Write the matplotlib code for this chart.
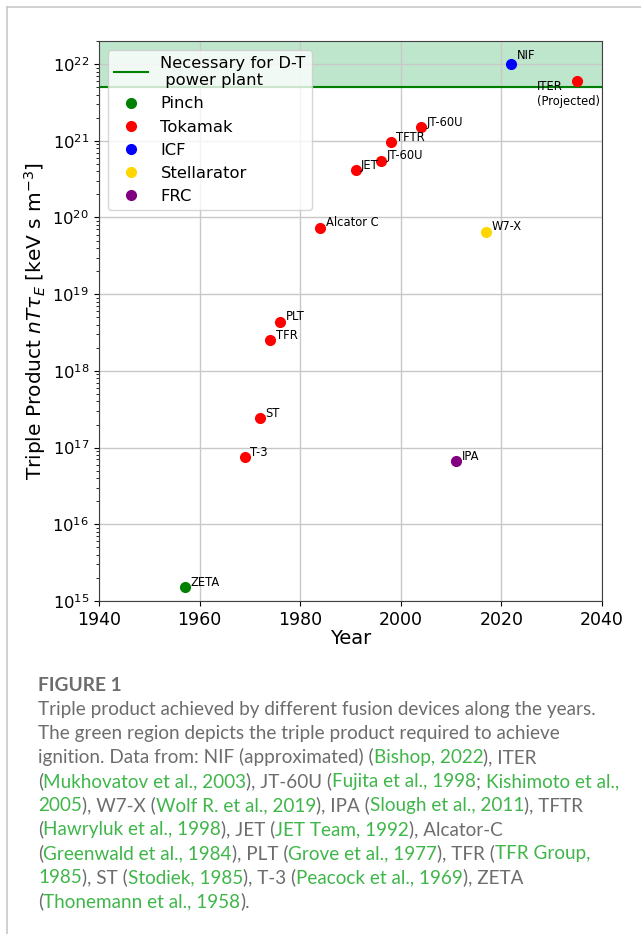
import matplotlib
matplotlib.use("Agg")
import matplotlib.pyplot as plt
import numpy as np

# data
pinch_year = [1957]
pinch_val = [1.5e15]
tok_names = ['T-3', 'ST', 'TFR', 'PLT', 'Alcator C', 'JET', 'JT-60U', 'TFTR', 'JT-60U', 'ITER\n(Projected)']
tok_year = [1969, 1972, 1974, 1976, 1984, 1991, 1996, 1998, 2004, 2035]
tok_val = [7.5e16, 2.4e17, 2.5e18, 4.4e18, 7.4e19, 4.1e20, 5.5e20, 9.5e20, 1.5e21, 6.0e21]
icf_year = [2022]
icf_val = [1.0e22]
stel_year = [2017]
stel_val = [6.5e19]
frc_year = [2011]
frc_val = [6.7e16]
dt_limit = 5e21

fig = plt.figure(figsize=(6.41, 9.34), dpi=100)
ax = fig.add_axes([99/641, 1-601/934, 503/641, 560/934])

ax.fill_between([1940, 2040], dt_limit, 2e22, color='#bee6cc', zorder=0)
ax.axhline(dt_limit, color='green', lw=1.5, label='Necessary for D-T\n power plant', zorder=1)

ms = 7
ax.plot(pinch_year, pinch_val, 'o', color='green', ms=ms, ls='none', label='Pinch', zorder=3)
ax.plot(tok_year, tok_val, 'o', color='red', ms=ms, ls='none', label='Tokamak', zorder=3)
ax.plot(icf_year, icf_val, 'o', color='blue', ms=ms, ls='none', label='ICF', zorder=3)
ax.plot(stel_year, stel_val, 'o', color='gold', ms=ms, ls='none', label='Stellarator', zorder=3)
ax.plot(frc_year, frc_val, 'o', color='purple', ms=ms, ls='none', label='FRC', zorder=3)

fs = 8.3
ax.annotate('ZETA', (pinch_year[0], pinch_val[0]), xytext=(4, 1), textcoords='offset points', fontsize=fs)
for n, xx, yy in zip(tok_names, tok_year, tok_val):
    if n.startswith('ITER'):
        ax.annotate(n, (xx, yy), xytext=(-29, -17), textcoords='offset points', fontsize=fs)
    else:
        ax.annotate(n, (xx, yy), xytext=(4, 1), textcoords='offset points', fontsize=fs)
ax.annotate('NIF', (icf_year[0], icf_val[0]), xytext=(4, 4), textcoords='offset points', fontsize=fs)
ax.annotate('W7-X', (stel_year[0], stel_val[0]), xytext=(4, 1), textcoords='offset points', fontsize=fs)
ax.annotate('IPA', (frc_year[0], frc_val[0]), xytext=(4, 1), textcoords='offset points', fontsize=fs)

ax.set_yscale('log')
ax.set_xlim(1940, 2040)
ax.set_ylim(1e15, 2e22)
ax.set_xticks([1940, 1960, 1980, 2000, 2020, 2040])
ax.grid(True, color='#c8c8c8', lw=1)
ax.set_axisbelow(True)
ax.tick_params(axis='x', labelsize=12.5)
ax.tick_params(axis='y', labelsize=11.8)
ax.set_xlabel('Year', fontsize=14, labelpad=0)
ax.set_ylabel(r'Triple Product $nT\tau_E$ [keV s m$^{-3}$]', fontsize=14.5, labelpad=3)
for s in ax.spines.values():
    s.set_color('#404040')
ax.legend(loc='upper left', fontsize=11.8, handlelength=2.1, handletextpad=0.75, borderpad=0.35,
          borderaxespad=0.55, framealpha=0.8, labelspacing=0.5)

# page frame
fig.add_artist(plt.Line2D([6.5/641, 6.5/641], [0, 1-7/934], color='#c8c8c8', lw=1.2))
fig.add_artist(plt.Line2D([6.5/641, 1], [1-7/934, 1-7/934], color='#c8c8c8', lw=1.2))

# caption
cap = fig.add_axes([0, 0, 1, 1])
cap.axis('off')
cap.set_xlim(0, 641)
cap.set_ylim(934, 0)
grey = '#6d6d6d'
green = '#3fb64a'
cfont = 'Lato'
cfs = 13.6
cap.text(38, 691, 'FIGURE 1', fontsize=13.8, fontweight='bold', color=grey, family=cfont)

lines = [
    [('Triple product achieved by different fusion devices along the years.', 0)],
    [('The green region depicts the triple product required to achieve', 0)],
    [('ignition. Data from: NIF (approximated) (', 0), ('Bishop, 2022', 1), ('), ITER', 0)],
    [('(', 0), ('Mukhovatov et al., 2003', 1), ('), JT-60U (', 0), ('Fujita et al., 1998', 1), ('; ', 0),
     ('Kishimoto et al.,', 1)],
    [('2005', 1), ('), W7-X (', 0), ('Wolf R. et al., 2019', 1), ('), IPA (', 0), ('Slough et al., 2011', 1),
     ('), TFTR', 0)],
    [('(', 0), ('Hawryluk et al., 1998', 1), ('), JET (', 0), ('JET Team, 1992', 1), ('), Alcator-C', 0)],
    [('(', 0), ('Greenwald et al., 1984', 1), ('), PLT (', 0), ('Grove et al., 1977', 1), ('), TFR (', 0),
     ('TFR Group,', 1)],
    [('1985', 1), ('), ST (', 0), ('Stodiek, 1985', 1), ('), T-3 (', 0), ('Peacock et al., 1969', 1),
     ('), ZETA', 0)],
    [('(', 0), ('Thonemann et al., 1958', 1), (').', 0)],
]
y0 = 718
for i, parts in enumerate(lines):
    y = y0 + i * 24
    t = cap.text(38, y, parts[0][0], fontsize=cfs, color=[grey, green][parts[0][1]], family=cfont, va='bottom')
    for s, c in parts[1:]:
        t = cap.annotate(s, xy=(1, 0), xycoords=t, fontsize=cfs, color=[grey, green][c], family=cfont,
                         va='bottom', ha='left')

fig.savefig('out.png', dpi=100)
